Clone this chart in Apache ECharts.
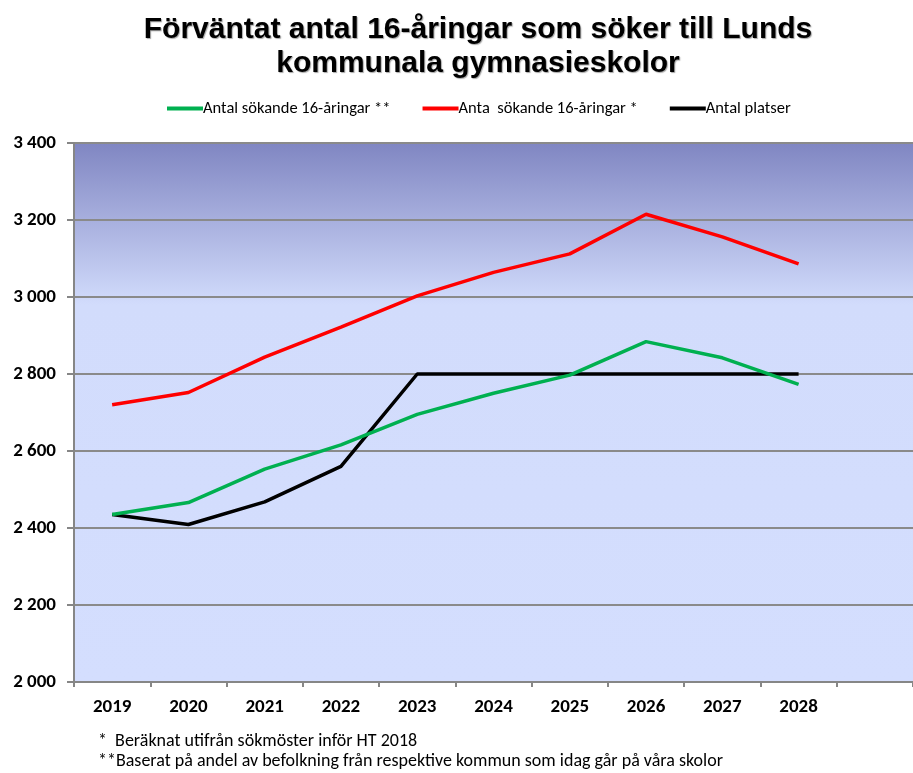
<!DOCTYPE html>
<html>
<head>
<meta charset="utf-8">
<script src="https://cdn.jsdelivr.net/npm/echarts@6/dist/echarts.min.js"></script>
<style>
  html, body { margin: 0; padding: 0; background: #fff; }
  #chart { width: 913px; height: 773px; }
</style>
</head>
<body>
<div id="chart"></div>
<script>
// data
const years = ['2019', '2020', '2021', '2022', '2023', '2024', '2025', '2026', '2027', '2028', ''];
const sokandeBefolkning = [2435, 2466, 2553, 2616, 2695, 2750, 2797, 2884, 2842, 2773];
const sokandeSokmonster = [2720, 2752, 2844, 2922, 3003, 3064, 3112, 3215, 3156, 3086];
const platser = [2435, 2409, 2468, 2560, 2800, 2800, 2800, 2800, 2800, 2800];
const seriesNames = ['Antal sökande 16-åringar **', 'Anta  sökande 16-åringar *', 'Antal platser'];

const chart = echarts.init(document.getElementById('chart'));

const labelFont = 'Carlito, "Liberation Sans Narrow", "DejaVu Sans Condensed", sans-serif';

const option = {
  animation: false,
  backgroundColor: '#ffffff',
  title: {
    text: 'Förväntat antal 16-åringar som söker till Lunds\nkommunala gymnasieskolor',
    left: 473,
    textAlign: 'center',
    top: 8,
    textStyle: {
      fontFamily: '"Liberation Sans", Arial, sans-serif',
      fontSize: 30,
      fontWeight: 'bold',
      lineHeight: 34,
      color: '#000',
      textShadowColor: 'rgba(0,0,0,0.35)',
      textShadowOffsetX: 1,
      textShadowOffsetY: 1,
      textShadowBlur: 1,
    },
  },
  legend: {
    left: 162,
    top: 95,
    itemWidth: 36,
    itemHeight: 4,
    itemGap: 32,
    icon: 'rect',
    textStyle: { fontFamily: labelFont, fontSize: 16.5, color: '#000', padding: [0, 0, 0, -5] },
    data: seriesNames,
  },
  grid: {
    left: 74,
    top: 143,
    width: 851,
    height: 539,
    show: true,
    borderWidth: 0,
    backgroundColor: new echarts.graphic.LinearGradient(0, 0, 0, 1, [
      { offset: 0, color: '#8086c2' },
      { offset: 0.3, color: '#d2dcfc' },
      { offset: 1, color: '#d4defe' },
    ]),
  },
  xAxis: {
    type: 'category',
    data: years,
    boundaryGap: true,
    axisLine: { lineStyle: { color: '#868686', width: 2 } },
    axisTick: { show: true, length: 5, lineStyle: { color: '#868686', width: 2 } },
    axisLabel: {
      fontFamily: labelFont,
      fontWeight: 'bold',
      fontSize: 19,
      color: '#000',
      margin: 16,
    },
  },
  yAxis: {
    type: 'value',
    min: 2000,
    max: 3400,
    interval: 200,
    axisLine: { show: true, lineStyle: { color: '#868686', width: 2 } },
    axisTick: { show: true, length: 7, lineStyle: { color: '#868686', width: 2 } },
    splitLine: { lineStyle: { color: '#8a8a8a', width: 2 } },
    axisLabel: {
      fontFamily: labelFont,
      fontWeight: 'bold',
      fontSize: 19,
      color: '#000',
      margin: 18,
      formatter: (v) => String(v).replace(/\B(?=(\d{3})+(?!\d))/g, ' '),
    },
  },
  series: [
    {
      name: seriesNames[0],
      type: 'line',
      data: sokandeBefolkning,
      symbol: 'none',
      color: '#00b050',
      lineStyle: { width: 3.5, color: '#00b050' },
      z: 3,
    },
    {
      name: seriesNames[1],
      type: 'line',
      data: sokandeSokmonster,
      symbol: 'none',
      color: '#ff0000',
      lineStyle: { width: 3.5, color: '#ff0000' },
      z: 3,
    },
    {
      name: seriesNames[2],
      type: 'line',
      data: platser,
      symbol: 'none',
      color: '#000000',
      lineStyle: { width: 3.5, color: '#000000' },
      z: 2,
    },
  ],
  // fotnoter
  graphic: [
    {
      type: 'text',
      left: 98,
      top: 732,
      style: { text: '*  Beräknat utifrån sökmöster inför HT 2018', fontFamily: labelFont, fontSize: 18, fill: '#000' },
    },
    {
      type: 'text',
      left: 98,
      top: 752,
      style: { text: '**Baserat på andel av befolkning från respektive kommun som idag går på våra skolor', fontFamily: labelFont, fontSize: 18, fill: '#000' },
    },
  ],
};

chart.setOption(option);
</script>
</body>
</html>
